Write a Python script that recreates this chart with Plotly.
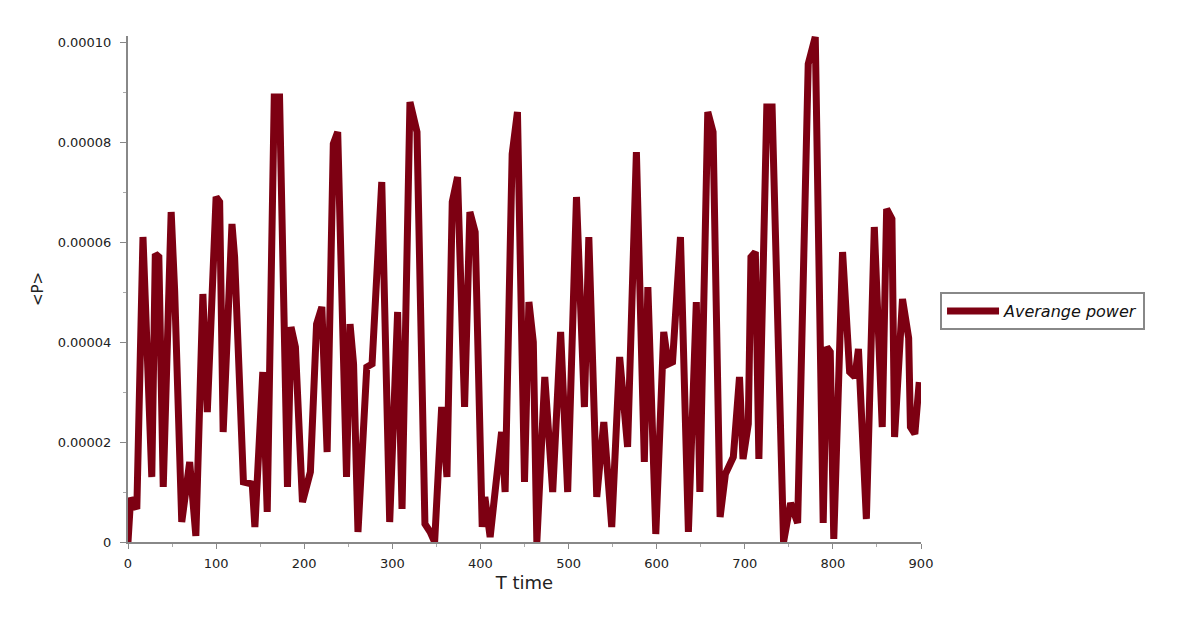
import plotly.graph_objects as go

# values
t_time = [0, 3, 10, 17, 27, 31, 35, 40, 49, 53, 61, 70, 77, 85, 90, 100, 104, 108, 118, 121,
          131, 141, 144, 153, 158, 166, 172, 181, 185, 190, 198, 207, 214, 220, 226, 233, 238, 248, 252, 256,
          261, 271, 277, 288, 297, 306, 311, 320, 328, 337, 343, 348, 356, 362, 368, 374, 382, 388, 394, 402,
          405, 411, 424, 428, 436, 442, 450, 455, 460, 464, 473, 482, 491, 499, 509, 518, 523, 532, 540, 549,
          558, 567, 577, 586, 590, 599, 608, 613, 618, 627, 636, 645, 649, 658, 664, 672, 678, 687, 694, 698,
          704, 707, 712, 716, 725, 731, 744, 752, 760, 772, 780, 789, 793, 797, 801, 811, 819, 825, 829, 838,
          847, 856, 861, 867, 870, 879, 886, 888, 893, 898]

power_micro = [0, 8.8, 6.6, 61, 13, 57.6, 57, 11, 66, 50, 4, 16, 1.2, 49.6, 26, 69, 68, 22, 63.6, 57,
               12, 11.6, 3, 34, 6, 89, 89, 11, 43, 39, 8, 14, 43.6, 47, 18, 79.6, 82, 13, 43.6, 35.6,
               2, 35, 35.6, 72, 4, 46, 6.6, 88, 82, 3.6, 2, 0, 27, 13, 68, 73, 27, 66, 62, 3,
               9, 1, 22, 10, 77.6, 86, 12, 48, 40, 0, 33, 10, 42, 10, 69, 27, 61, 9, 24, 3,
               37, 19, 78, 16, 51, 1.6, 42, 35.6, 36, 61, 2, 48, 10, 86, 82, 5, 13.6, 17, 33, 16.6,
               23.6, 57, 58, 16.6, 87, 87, 0, 7.8, 3.8, 95.6, 101, 3.8, 39, 38, 0.6, 58, 34, 33, 38.6, 4.6,
               63, 23, 66.6, 64.6, 21, 48.6, 40.8, 23, 21.6, 32]

avg_power = [v * 1e-6 for v in power_micro]

fig = go.Figure()

fig.add_trace(go.Scatter(
    x=t_time,
    y=avg_power,
    name='Averange power',
    mode='lines',
    line=dict(color='#7d0012', width=7)
))

axis_font = dict(family='DejaVu Sans', size=13, color='#222')

fig.update_layout(
    width=1181,
    height=630,
    margin=dict(l=120, r=268, t=28, b=96),
    plot_bgcolor='white',
    paper_bgcolor='white',
    font=dict(family='DejaVu Sans', color='#222'),
    showlegend=True,
    legend=dict(
        x=1.024, y=0.4565, xanchor='left', yanchor='middle',
        bordercolor='#888', borderwidth=2,
        font=dict(family='DejaVu Sans', size=16, style='italic', color='#111'),
        itemwidth=52
    ),
    xaxis=dict(
        range=[0, 900],
        dtick=100,
        showgrid=False,
        zeroline=False,
        showline=True,
        linecolor='#888',
        linewidth=2,
        ticks='outside',
        ticklen=5,
        tickcolor='#888',
        tickfont=axis_font,
        ticklabelstandoff=3,
        minor=dict(dtick=50, ticks='outside', ticklen=3, tickcolor='#aaa', showgrid=False),
        title=dict(text='T time', font=dict(family='DejaVu Sans', size=18, color='#222'), standoff=7)
    ),
    yaxis=dict(
        range=[0, 0.0001012],
        dtick=0.00002,
        tickformat='.5f',
        labelalias={'0.00000': '0'},
        showgrid=False,
        zeroline=False,
        showline=True,
        linecolor='#888',
        linewidth=2,
        ticks='outside',
        ticklen=6,
        tickcolor='#888',
        tickfont=axis_font,
        ticklabelstandoff=6,
        minor=dict(dtick=0.00001, ticks='outside', ticklen=3, tickcolor='#aaa', showgrid=False),
        title=dict(text='<P>', font=dict(family='DejaVu Sans', size=15, color='#222'), standoff=10)
    )
)

fig.write_html("out.html")
